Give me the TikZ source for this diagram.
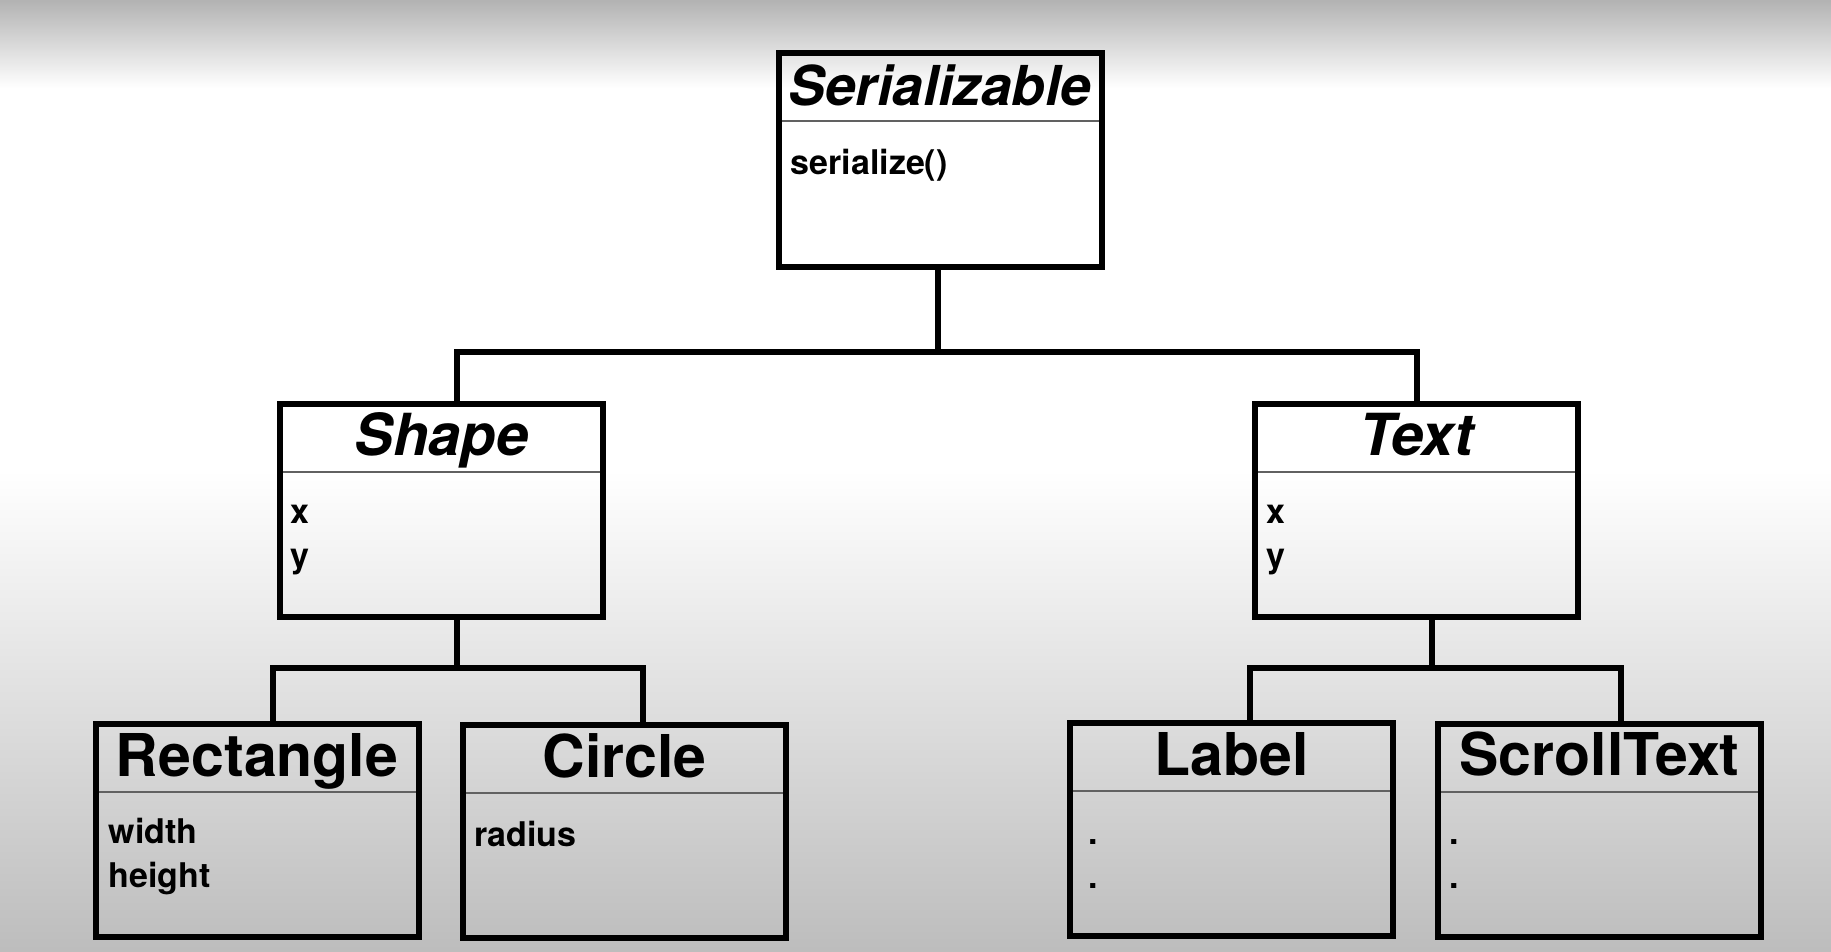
\documentclass[tikz,border=0pt]{standalone}
\usepackage{fontspec}
\setsansfont{TeX Gyre Heros}

\begin{document}
\begin{tikzpicture}[x=1pt,y=-1pt,
    classbox/.style={draw,line width=6pt,minimum width=323pt,minimum height=213pt,inner sep=0pt},
    classname/.style={anchor=base,inner sep=0pt,font=\sffamily\bfseries\fontsize{59}{59}\selectfont},
    abstractname/.style={classname,font=\sffamily\bfseries\itshape\fontsize{58}{58}\selectfont},
    members/.style={anchor=base west,align=left,inner sep=0pt,font=\sffamily\bfseries\fontsize{34}{44}\selectfont},
    divider/.style={line width=2pt,black!62},
    wire/.style={line width=6pt}]
% background
\useasboundingbox (0,0) rectangle (1831,952);
\fill[white] (0,0) rectangle (1831,952);
\shade[top color=black!30,bottom color=white] (0,0) rectangle (1831,88);
\shade[top color=white,bottom color=black!26] (0,470) rectangle (1831,952);

% classes
\node[classbox] (serial) at (940,160) {};
\node[classbox] (shp) at (441.5,510.5) {};
\node[classbox] (txt) at (1416.5,510.5) {};
\node[classbox] (rect) at (257,830.5) {};
\node[classbox] (circ) at (624.5,831.5) {};
\node[classbox] (lbl) at (1231.5,829.5) {};
\node[classbox] (scroll) at (1599.5,830) {};

\foreach \c in {serial,shp,txt,rect,circ,lbl,scroll}
    \draw[divider] ([xshift=6pt,yshift=-71pt]\c.north west) -- ([xshift=-6pt,yshift=-71pt]\c.north east);

\node[abstractname,font=\sffamily\bfseries\itshape\fontsize{55}{55}\selectfont] (serialname) at ([yshift=-55pt]serial.north) {Serializable};
\node[abstractname] (shpname) at ([yshift=-54pt]shp.north) {Shape};
\node[abstractname] (txtname) at ([yshift=-54pt]txt.north) {Text};
\node[classname] (rectname) at ([yshift=-55pt]rect.north) {Rectangle};
\node[classname] (circname) at ([yshift=-55pt]circ.north) {Circle};
\node[classname] (lblname) at ([yshift=-55pt]lbl.north) {Label};
\node[classname] (scrollname) at ([yshift=-55pt]scroll.north) {ScrollText};

% two-line blocks sit on their last line
\node[members] (serialops) at ([xshift=15pt,yshift=-124pt]serial.north west) {serialize()};
\node[members] (shpattr) at ([xshift=13pt,yshift=-166pt]shp.north west) {x\\y};
\node[members] (txtattr) at ([xshift=14pt,yshift=-166pt]txt.north west) {x\\y};
\node[members] (rectattr) at ([xshift=16pt,yshift=-166pt]rect.north west) {width\\height};
\node[members] (circattr) at ([xshift=14pt,yshift=-124pt]circ.north west) {radius};
\node[members] (lblattr) at ([xshift=21pt,yshift=-168pt]lbl.north west) {.\\.};
\node[members] (scrollattr) at ([xshift=14pt,yshift=-168pt]scroll.north west) {.\\.};

% inheritance lines
\coordinate (topbus) at (0,352);
\coordinate (lowbus) at (0,668);
\draw[wire] ([xshift=-2pt]serial.south) -- ([xshift=-2pt]serial.south |- topbus);
\draw[wire] ([xshift=15pt]shp.north) |- (txt.north |- topbus) -- (txt.north);
\draw[wire] ([xshift=15pt]shp.south) -- ([xshift=15pt]shp.south |- lowbus);
\draw[wire] ([xshift=16pt]rect.north) |- ([xshift=18pt]circ.north |- lowbus) -- ([xshift=18pt]circ.north);
\draw[wire] ([xshift=15pt]txt.south) -- ([xshift=15pt]txt.south |- lowbus);
\draw[wire] ([xshift=18pt]lbl.north) |- ([xshift=21pt]scroll.north |- lowbus) -- ([xshift=21pt]scroll.north);
\end{tikzpicture}
\end{document}
